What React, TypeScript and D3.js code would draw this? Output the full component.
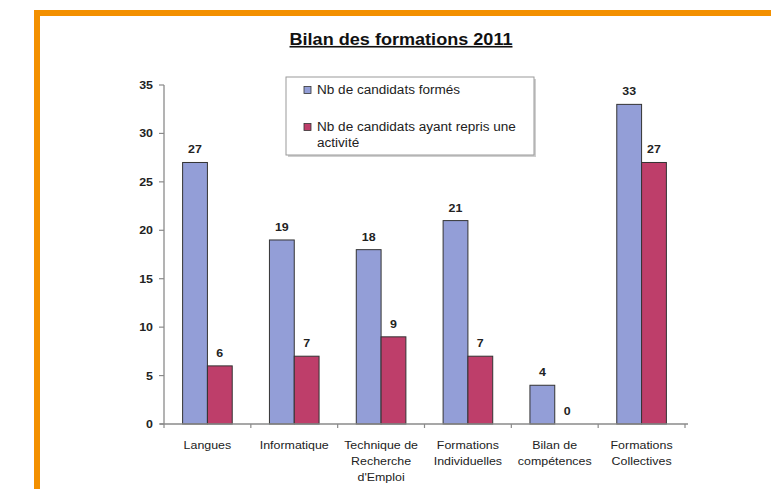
import React from "react";
import * as d3 from "d3";

const categories = [
  ["Langues"],
  ["Informatique"],
  ["Technique de", "Recherche", "d'Emploi"],
  ["Formations", "Individuelles"],
  ["Bilan de", "compétences"],
  ["Formations", "Collectives"],
];
const forms = [27, 19, 18, 21, 4, 33];
const repris = [6, 7, 9, 7, 0, 27];
const seriesNames = ["Nb de candidats formés", ["Nb de candidats ayant repris une", "activité"]];
const yTicks = [0, 5, 10, 15, 20, 25, 30, 35];
const title = "Bilan des formations 2011";

const W = 771;
const H = 489;
const SX = 1.13;
const FONT = "Arial, 'Liberation Sans', sans-serif";
const BLUE = "#939ED7";
const RED = "#BE3E6A";

function T({ x, y, children, anchor = "middle", size = 11, weight = "normal", fill = "#222", deco }: any) {
  return (
    <text
      transform={`translate(${x},${y}) scale(${SX},1)`}
      textAnchor={anchor}
      fontSize={size}
      fontWeight={weight}
      fill={fill}
      fontFamily={FONT}
      style={deco ? { textDecoration: deco } : undefined}
    >
      {children}
    </text>
  );
}

export default function App() {
  const x0 = 164;
  const x1 = 685;
  const y = d3.scaleLinear().domain([0, 35]).range([424, 85]);
  const idx = categories.map((_, i) => i);
  const x = d3.scaleBand<number>().domain(idx).range([x0, x1]).paddingInner(0).paddingOuter(0);
  const bw = x.bandwidth() / 3.5;
  const ticksX = idx.map((i) => x(i)!).concat([x1]);

  return (
    <svg width={W} height={H} style={{ position: "absolute", left: 0, top: 0, background: "#fff" }}>
      <rect x={0} y={0} width={W} height={H} fill="#fff" />
      {/* orange frame */}
      <rect x={34} y={10} width={W - 34} height={6} fill="#F39000" />
      <rect x={34} y={10} width={6} height={H - 10} fill="#F39000" />

      {/* title */}
      <T x={401} y={45} size={16} weight="bold" fill="#111" deco="underline">
        {title}
      </T>

      {/* y axis */}
      <line x1={x0} x2={x0} y1={y(35)} y2={y(0)} stroke="#8a8a8a" strokeWidth={1.3} />
      {yTicks.map((t) => (
        <g key={t}>
          <line x1={x0 - 5} x2={x0} y1={y(t)} y2={y(t)} stroke="#8a8a8a" strokeWidth={1.2} />
          <T x={x0 - 11} y={y(t) + 4} anchor="end" weight="bold" fill="#222">
            {t}
          </T>
        </g>
      ))}

      {/* bars */}
      {idx.map((i) => {
        const c = x(i)! + x.bandwidth() / 2;
        return (
          <g key={i}>
            <rect x={c - bw} y={y(forms[i])} width={bw} height={y(0) - y(forms[i])} fill={BLUE} stroke="#333" strokeWidth={1} />
            {repris[i] > 0 && (
              <rect x={c} y={y(repris[i])} width={bw} height={y(0) - y(repris[i])} fill={RED} stroke="#333" strokeWidth={1} />
            )}
            <T x={c - bw / 2} y={y(forms[i]) - 9} weight="bold">
              {forms[i]}
            </T>
            <T x={c + bw / 2} y={y(repris[i]) - 9} weight="bold">
              {repris[i]}
            </T>
            {categories[i].map((line, k) => (
              <T key={k} x={c} y={449 + k * 16} size={11}>
                {line}
              </T>
            ))}
          </g>
        );
      })}

      {/* x axis */}
      <line x1={x0 - 4} x2={x1 + 3} y1={y(0)} y2={y(0)} stroke="#8a8a8a" strokeWidth={1.5} />
      {ticksX.map((tx, k) => (
        <line key={k} x1={tx} x2={tx} y1={y(0)} y2={y(0) + 4} stroke="#8a8a8a" strokeWidth={1.2} />
      ))}

      {/* legend */}
      <rect x={288} y={79} width={248} height={78} fill="#cfcfcf" />
      <rect x={286} y={77} width={248} height={78} fill="#fff" stroke="#9a9a9a" strokeWidth={1} />
      <rect x={304} y={86.5} width={7} height={7} fill={BLUE} stroke="#333" strokeWidth={0.8} />
      <T x={317} y={94} anchor="start" size={12}>
        {seriesNames[0] as string}
      </T>
      <rect x={304} y={123.5} width={7} height={7} fill={RED} stroke="#333" strokeWidth={0.8} />
      {(seriesNames[1] as string[]).map((l, k) => (
        <T key={k} x={317} y={131 + k * 16} anchor="start" size={12}>
          {l}
        </T>
      ))}
    </svg>
  );
}
